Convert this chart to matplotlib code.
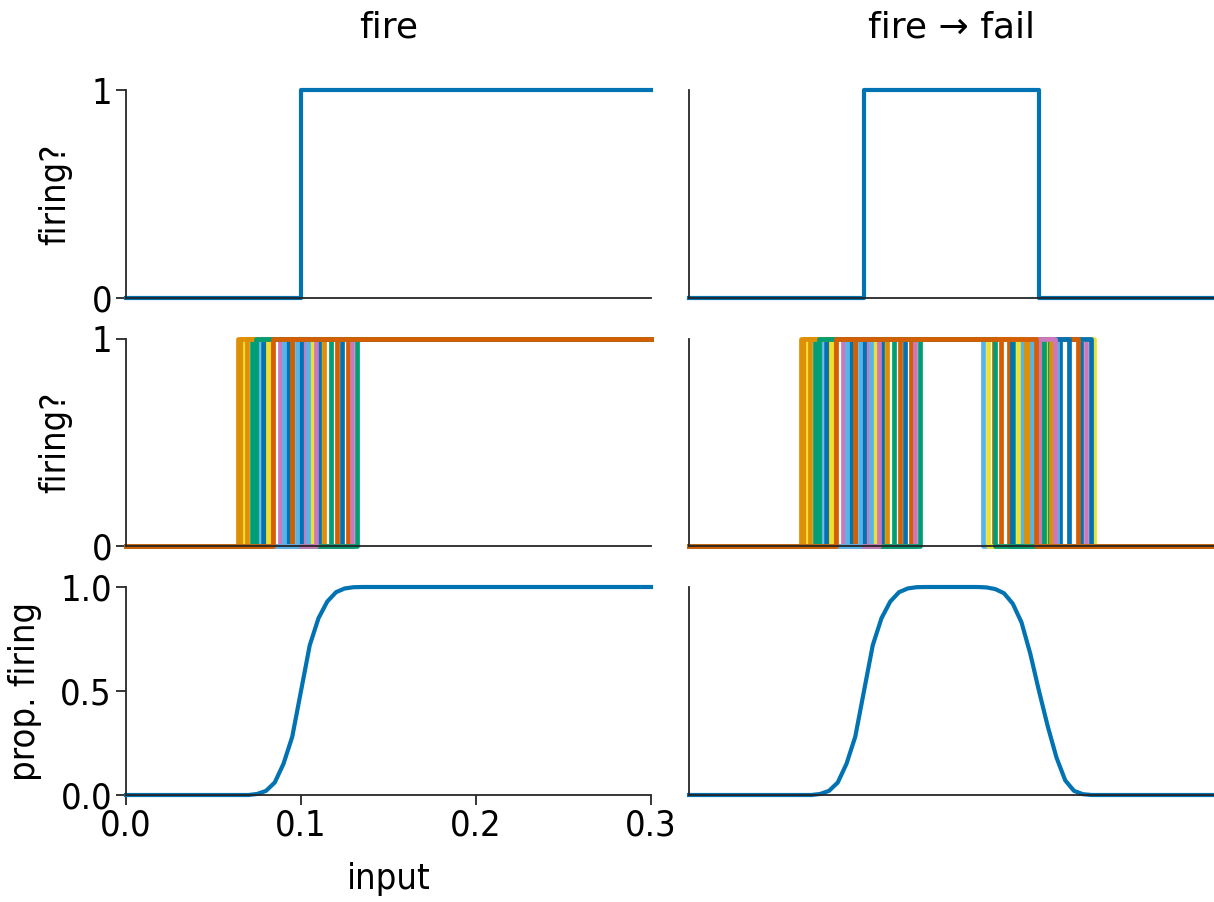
import matplotlib
matplotlib.use('Agg')
import matplotlib.pyplot as plt

# single neuron thresholds
fire_on = 0.1
fire_off = 0.2

# noisy population: onset / offset thresholds, in drawing order
onsets = [0.1234, 0.0657, 0.072, 0.0794, 0.088, 0.068, 0.0754, 0.0926,
          0.0691, 0.117, 0.1269, 0.1017, 0.1063, 0.104, 0.1, 0.0834,
          0.095, 0.1206, 0.1291, 0.1109, 0.09, 0.11, 0.1131, 0.132,
          0.0949, 0.1086, 0.0811, 0.0977, 0.078, 0.064, 0.0745, 0.084]
offsets = [0.224, 0.19, 0.2006, 0.174, 0.227, 0.2314, 0.168, 0.212,
           0.195, 0.185, 0.178, 0.205, 0.171, 0.19, 0.2297, 0.2,
           0.205, 0.222, 0.2, 0.2034, 0.21, 0.217, 0.207, 0.203,
           0.183, 0.209, 0.188, 0.196, 0.1846, 0.1926, 0.175, 0.198]

# proportion firing
fire_x = [0.0, 0.07, 0.075, 0.08, 0.085, 0.09, 0.095, 0.1, 0.105, 0.11,
          0.115, 0.12, 0.125, 0.13, 0.135, 0.3]
fire_prop = [0.0, 0.0, 0.005, 0.02, 0.06, 0.15, 0.28, 0.5, 0.72, 0.85,
             0.93, 0.975, 0.993, 0.999, 1.0, 1.0]
fail_x = [0.0, 0.07, 0.075, 0.08, 0.085, 0.09, 0.095, 0.1, 0.105, 0.11,
          0.115, 0.12, 0.125, 0.13, 0.135, 0.165, 0.17, 0.175, 0.18, 0.185,
          0.19, 0.195, 0.2, 0.205, 0.21, 0.215, 0.22, 0.225, 0.23, 0.3]
fail_prop = [0.0, 0.0, 0.005, 0.02, 0.06, 0.15, 0.28, 0.5, 0.72, 0.85,
             0.93, 0.975, 0.993, 0.999, 1.0, 1.0, 0.998, 0.99, 0.97, 0.92,
             0.83, 0.68, 0.5, 0.33, 0.18, 0.07, 0.02, 0.004, 0.0, 0.0]

xmax = 0.3
palette = ['#0173b2', '#de8f05', '#029e73', '#d55e00', '#cc78bc', '#ece133', '#56b4e9']

plt.rcParams['font.family'] = 'DejaVu Sans'
cond = dict(family='DejaVu Sans', stretch='condensed')

fig = plt.figure(figsize=(12.14, 9.02), dpi=100)
W, H = 1214, 902


def make_ax(x0, x1, y0, y1):
    return fig.add_axes([x0 / W, 1 - y1 / H, (x1 - x0) / W, (y1 - y0) / H])


lefts = [(126, 651), (689, 1214)]
rows = [(90, 298), (339, 546), (587, 795)]
axes = [[make_ax(l[0], l[1], r[0], r[1]) for l in lefts] for r in rows]

lw = 3
# top row
axes[0][0].step([0, fire_on, xmax], [0, 1, 1], where='post', color=palette[0], lw=lw, clip_on=False)
axes[0][1].step([0, fire_on, fire_off, xmax], [0, 1, 0, 0], where='post', color=palette[0], lw=lw, clip_on=False)

# middle row
for i, (t_on, t_off) in enumerate(zip(onsets, offsets)):
    c = palette[i % len(palette)]
    axes[1][0].step([0, t_on, xmax], [0, 1, 1], where='post', color=c, lw=3.4, clip_on=False)
    axes[1][1].step([0, t_on, t_off, xmax], [0, 1, 0, 0], where='post', color=c, lw=3.4, clip_on=False)

# bottom row
axes[2][0].plot(fire_x, fire_prop, color=palette[0], lw=lw, clip_on=False)
axes[2][1].plot(fail_x, fail_prop, color=palette[0], lw=lw, clip_on=False)

for r, row in enumerate(axes):
    for c, ax in enumerate(row):
        ax.set_xlim(0, xmax)
        ax.set_ylim(0, 1)
        for s in ['top', 'right']:
            ax.spines[s].set_visible(False)
        for s in ['left', 'bottom']:
            ax.spines[s].set_color('#262626')
            ax.spines[s].set_linewidth(1.3)
        ax.tick_params(length=7, width=1.3, color='#262626', labelsize=26, pad=3)
        if r == 2 and c == 0:
            ax.set_xticks([0.0, 0.1, 0.2, 0.3])
            ax.set_xticklabels(['0.0', '0.1', '0.2', '0.3'], fontdict=cond)
        else:
            ax.set_xticks([])
        if c == 0:
            if r == 2:
                ax.set_yticks([0, 0.5, 1.0])
                ax.set_yticklabels(['0.0', '0.5', '1.0'], fontdict=cond)
            else:
                ax.set_yticks([0, 1])
                ax.set_yticklabels(['0', '1'], fontdict=cond)
        else:
            ax.set_yticks([])

axes[0][0].set_ylabel('firing?', fontsize=26, **cond)
axes[1][0].set_ylabel('firing?', fontsize=26, **cond)
axes[2][0].set_ylabel('prop. firing', fontsize=26, **cond)
axes[0][0].yaxis.set_label_coords(-0.103, 0.5)
axes[1][0].yaxis.set_label_coords(-0.103, 0.5)
axes[2][0].yaxis.set_label_coords(-0.16, 0.5)
axes[2][0].set_xlabel('input', fontsize=26, labelpad=14, **cond)

axes[0][0].set_title('fire', fontsize=26, pad=38)
axes[0][1].set_title('fire \u2192 fail', fontsize=26, pad=38)

fig.savefig('out.png', dpi=100)
